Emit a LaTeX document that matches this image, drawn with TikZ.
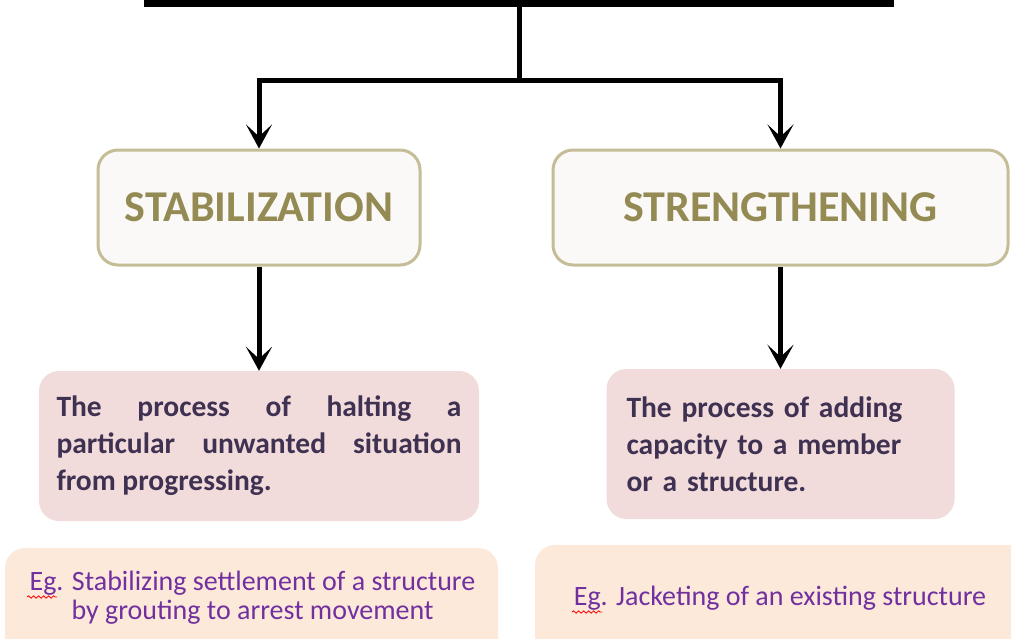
\documentclass[tikz,border=0pt]{standalone}
\usepackage{fontspec}
\setmainfont{Carlito}
\usepackage{tikz}
\usetikzlibrary{arrows.meta, positioning, decorations.pathmorphing}
\definecolor{tanborder}{RGB}{196,189,151}
\definecolor{tanfill}{RGB}{250,249,247}
\definecolor{tantext}{RGB}{148,138,84}
\definecolor{defpink}{RGB}{242,220,219}
\definecolor{defnavy}{RGB}{63,49,81}
\definecolor{egpeach}{RGB}{253,233,217}
\definecolor{egpurple}{RGB}{112,48,160}

\begin{document}
\begin{tikzpicture}[x=1pt, y=-1pt,
    link/.style={line width=5pt},
    arrowlink/.style={line width=5pt, -{Stealth[length=24pt, width=26pt, inset=12pt]}},
    headbox/.style={draw=tanborder, line width=3pt, fill=tanfill, rounded corners=20pt, minimum height=115pt, text=tantext, font=\bfseries\fontsize{44}{44}\selectfont},
    defbox/.style={fill=defpink, rounded corners=20pt, minimum height=150pt, text=defnavy, font=\bfseries\fontsize{29.5}{37}\selectfont},
    egbox/.style={fill=egpeach, rounded corners=20pt},
    egtext/.style={text=egpurple, font=\fontsize{28}{29}\selectfont, align=center},
    squiggle/.style={red, line width=0.8pt, decorate, decoration={snake, amplitude=1.2pt, segment length=5pt}}]
  \useasboundingbox (0,0) rectangle (1011,638);
  \clip (0,0) rectangle (1011,638);
  \node[fill=black, minimum width=750pt, minimum height=40pt, inner sep=0pt] (title) at (519,-13) {};
  \node[headbox, minimum width=322pt] (stab) at (259,207.5) {STABILIZATION};
  \node[headbox, minimum width=455pt] (streng) at (780.5,207.5) {STRENGTHENING};
  \node[defbox, minimum width=440pt, text width=405pt, align=justify] (stabdef) at (259,446) {The process of halting a\linebreak particular unwanted situation\linebreak from progressing.};
  \node[defbox, minimum width=348pt, text width=308pt, align=left] (strengdef) at (780.5,444) {The process of adding\\ capacity to a member\\ or a structure.};
  \node[egbox, minimum width=493pt, minimum height=140pt] (stabeg) at (251.5,618) {};
  \node[egbox, minimum width=520pt, minimum height=140pt] (strengeg) at (795,615) {};
  \node[egtext] (stabegtext) at (252.5,598) {Eg. Stabilizing settlement of a structure\\ by grouting to arrest movement};
  \node[egtext] (strengegtext) at (780,598) {Eg. Jacketing of an existing structure};
  \coordinate (split) at (519,80);
  \draw[link] (title.south) -- (split);
  \draw[arrowlink] (split) -| (stab.north);
  \draw[arrowlink] (split) -| (streng.north);
  \draw[arrowlink] (stab.south) -- (stabdef.north);
  \draw[arrowlink] (streng.south) -- (strengdef.north);
  \draw[squiggle] (27,597) -- (57,597);
  \draw[squiggle] (572,612) -- (602,612);
\end{tikzpicture}
\end{document}
